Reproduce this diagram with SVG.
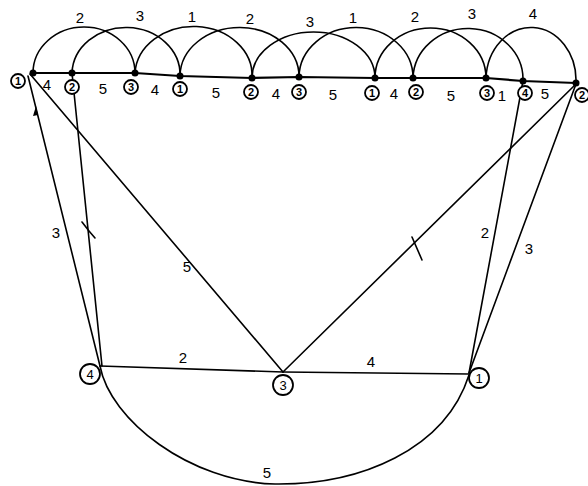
<svg xmlns="http://www.w3.org/2000/svg" width="588" height="486" viewBox="0 0 588 486">
<style>
.e{fill:none;stroke:#000;stroke-width:1.6;stroke-linecap:round}
.t{stroke-width:2.2}
.d{fill:#000}
.c{fill:#fff;stroke:#000;stroke-width:1.8}
.n{font-family:"Liberation Sans",Arial,sans-serif;font-size:11px;font-weight:bold;text-anchor:middle;fill:#000}
.nb{font-family:"Liberation Sans",Arial,sans-serif;font-size:13px;text-anchor:middle;fill:#000}
.l{font-family:"Liberation Sans",Arial,sans-serif;font-size:15px;text-anchor:middle;fill:#000}
</style>
<rect width="588" height="486" fill="#fff"/>
<g id="connectors">
<polyline class="e t" points="33,73 72,73 135,73 180,76 252,78 299,77 375,78 413,78 486,78 523,81 576,83"/>
<path class="e" d="M33,73 A51 46 0 0 1 135,73"/>
<path class="e" d="M72,73 A54 47 0 0 1 180,76"/>
<path class="e" d="M135,73 A58.5 49 0 0 1 252,78"/>
<path class="e" d="M180,76 A59.5 49 0 0 1 299,77"/>
<path class="e" d="M252,78 A61.5 46 0 0 1 375,78"/>
<path class="e" d="M299,77 A57 50 0 0 1 413,78"/>
<path class="e" d="M375,78 A55.5 50 0 0 1 486,78"/>
<path class="e" d="M413,78 A55 51 0 0 1 523,81"/>
<path class="e" d="M486,78 A45 53 0 0 1 576,83"/>
<line class="e" x1="28" y1="76" x2="100" y2="366"/>
<polygon points="36,106 33,116 38,115" class="d"/>
<line class="e" x1="30" y1="74" x2="283" y2="372"/>
<line class="e" x1="72" y1="73" x2="102" y2="366"/>
<path class="e" d="M82,222 L89,231 M95,238 L89,231"/>
<line class="e" x1="576" y1="84" x2="283" y2="372"/>
<line class="e" x1="412" y1="237" x2="422" y2="260"/>
<line class="e" x1="576" y1="84" x2="469" y2="373"/>
<line class="e" x1="523" y1="81" x2="469" y2="373"/>
<line class="e" x1="100" y1="366" x2="283" y2="372"/>
<line class="e" x1="283" y1="372" x2="469" y2="374"/>
<path class="e" d="M100,366 C110,420 190,482 275,484 C360,485 445,450 469,375"/>
</g>
<g id="edge-labels">
<text class="l" x="80" y="23">2</text>
<text class="l" x="140" y="21">3</text>
<text class="l" x="192" y="22">1</text>
<text class="l" x="250" y="24">2</text>
<text class="l" x="310" y="27">3</text>
<text class="l" x="353" y="23">1</text>
<text class="l" x="415" y="22">2</text>
<text class="l" x="472" y="19">3</text>
<text class="l" x="533" y="19">4</text>
<text class="l" x="47" y="90">4</text>
<text class="l" x="103" y="94">5</text>
<text class="l" x="155" y="95">4</text>
<text class="l" x="216" y="98">5</text>
<text class="l" x="276" y="99">4</text>
<text class="l" x="333" y="100">5</text>
<text class="l" x="394" y="99">4</text>
<text class="l" x="451" y="101">5</text>
<text class="l" x="502" y="101">1</text>
<text class="l" x="545" y="99">5</text>
<text class="l" x="56" y="238">3</text>
<text class="l" x="187" y="272">5</text>
<text class="l" x="485" y="238">2</text>
<text class="l" x="529" y="254">3</text>
<text class="l" x="183" y="363">2</text>
<text class="l" x="371" y="367">4</text>
<text class="l" x="267" y="478">5</text>
</g>
<g id="n1"><circle class="d" cx="33" cy="73" r="3.5"/><circle class="c" cx="18" cy="81" r="7"/><text class="n" x="18" y="85">1</text></g>
<g id="n2"><circle class="d" cx="72" cy="73" r="3.5"/><circle class="c" cx="72" cy="87" r="7"/><text class="n" x="72" y="91">2</text></g>
<g id="n3"><circle class="d" cx="135" cy="73" r="3.5"/><circle class="c" cx="131" cy="87" r="7"/><text class="n" x="131" y="91">3</text></g>
<g id="n4"><circle class="d" cx="180" cy="76" r="3.5"/><circle class="c" cx="180" cy="89" r="7"/><text class="n" x="180" y="93">1</text></g>
<g id="n5"><circle class="d" cx="252" cy="78" r="3.5"/><circle class="c" cx="251" cy="92" r="7"/><text class="n" x="251" y="96">2</text></g>
<g id="n6"><circle class="d" cx="299" cy="77" r="3.5"/><circle class="c" cx="299" cy="92" r="7"/><text class="n" x="299" y="96">3</text></g>
<g id="n7"><circle class="d" cx="375" cy="78" r="3.5"/><circle class="c" cx="372" cy="93" r="7"/><text class="n" x="372" y="97">1</text></g>
<g id="n8"><circle class="d" cx="413" cy="78" r="3.5"/><circle class="c" cx="416" cy="92" r="7"/><text class="n" x="416" y="96">2</text></g>
<g id="n9"><circle class="d" cx="486" cy="78" r="3.5"/><circle class="c" cx="487" cy="93" r="7"/><text class="n" x="487" y="97">3</text></g>
<g id="n10"><circle class="d" cx="523" cy="81" r="3.5"/><circle class="c" cx="525" cy="93" r="7"/><text class="n" x="525" y="97">4</text></g>
<g id="n11"><circle class="d" cx="576" cy="83" r="3.5"/><circle class="c" cx="582" cy="95" r="7"/><text class="n" x="582" y="99">2</text></g>
<g id="b4"><circle class="c" cx="90" cy="374" r="10"/><text class="nb" x="90" y="379">4</text></g>
<g id="b3"><circle class="c" cx="283" cy="385" r="10"/><text class="nb" x="283" y="390">3</text></g>
<g id="b1"><circle class="c" cx="479" cy="378" r="10"/><text class="nb" x="479" y="383">1</text></g>
</svg>
